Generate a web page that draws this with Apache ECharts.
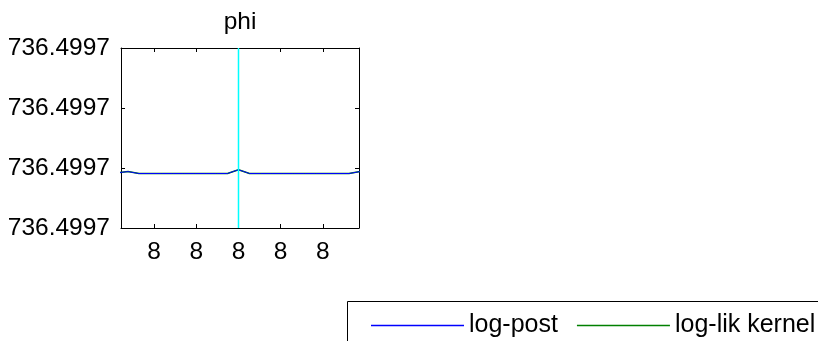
<!DOCTYPE html>
<html>
<head>
<meta charset="utf-8">
<script src="https://cdn.jsdelivr.net/npm/echarts@6/dist/echarts.min.js"></script>
<style>
  html, body { margin: 0; padding: 0; background: #fff; }
  #chart { width: 818px; height: 341px; }
</style>
</head>
<body>
<div id="chart"></div>
<script>
// Sample positions along phi (in tick steps relative to the centre tick)
const phiPositions = [-2.88, -2.62, -2.36, -2.10, -1.83, -1.57, -1.31, -1.05, -0.79, -0.52, -0.26, 0,
                      0.26, 0.52, 0.79, 1.05, 1.31, 1.57, 1.83, 2.10, 2.36, 2.62, 2.88];
// Log-posterior and log-likelihood kernel (offsets above 736.4997, in tick steps)
const logPost = [0.92, 0.94, 0.908, 0.908, 0.908, 0.908, 0.908, 0.908, 0.908, 0.908, 0.908, 0.972,
                 0.908, 0.908, 0.908, 0.908, 0.908, 0.908, 0.908, 0.908, 0.908, 0.908, 0.94];
const logLik = [0.92, 0.94, 0.908, 0.908, 0.908, 0.908, 0.908, 0.908, 0.908, 0.908, 0.908, 0.972,
                0.908, 0.908, 0.908, 0.908, 0.908, 0.908, 0.908, 0.908, 0.908, 0.908, 0.94];
// Current value of phi (vertical marker)
const phiCurrent = 0;
const xTickValues = [-2, -1, 0, 1, 2];
const xTickLabel = '8';
const yTickLabel = '736.4997';
const seriesNames = ['log-post', 'log-lik kernel'];
const seriesColors = ['#0000ff', '#008000'];
const titleText = 'phi';

const FONT = 'Liberation Sans, Arial, Helvetica, sans-serif';
const xMin = -2.786, xMax = 2.857;
const yMin = 0, yMax = 3;

const pair = (xs, ys) => xs.map((x, i) => [x, ys[i]]);

const axisLineStyle = { show: true, onZero: false, lineStyle: { color: '#000', width: 1 } };
const tickStyle = { show: true, inside: true, length: 4, lineStyle: { color: '#000', width: 1 } };

const chart = echarts.init(document.getElementById('chart'), null, { renderer: 'canvas' });
chart.setOption({
  animation: false,
  backgroundColor: '#fff',
  grid: { left: 121, right: 459, top: 48, bottom: 113, show: false },
  xAxis: [
    {
      type: 'value', position: 'bottom', min: xMin, max: xMax,
      axisLine: axisLineStyle,
      axisTick: Object.assign({ customValues: xTickValues }, tickStyle),
      axisLabel: { customValues: xTickValues, formatter: () => xTickLabel, color: '#000', fontFamily: FONT, fontSize: 24.5, margin: 12 },
      splitLine: { show: false }
    },
    {
      type: 'value', position: 'top', min: xMin, max: xMax,
      axisLine: axisLineStyle,
      axisTick: Object.assign({ customValues: xTickValues }, tickStyle),
      axisLabel: { show: false },
      splitLine: { show: false }
    }
  ],
  yAxis: [
    {
      type: 'value', position: 'left', min: yMin, max: yMax, interval: 1,
      axisLine: axisLineStyle,
      axisTick: tickStyle,
      axisLabel: { formatter: () => yTickLabel, color: '#000', fontFamily: FONT, fontSize: 24.5, margin: 11 },
      splitLine: { show: false }
    },
    {
      type: 'value', position: 'right', min: yMin, max: yMax, interval: 1,
      axisLine: axisLineStyle,
      axisTick: tickStyle,
      axisLabel: { show: false },
      splitLine: { show: false }
    }
  ],
  legend: {
    data: seriesNames.map((name, i) => ({
      name,
      icon: 'rect',
      itemStyle: { color: seriesColors[i], borderColor: seriesColors[i], borderWidth: 0, opacity: 1 },
      lineStyle: { color: seriesColors[i], width: 1 }
    })),
    left: 366, top: 308, width: 700, orient: 'horizontal',
    itemWidth: 93, itemHeight: 1.5, itemGap: 19,
    textStyle: { color: '#000', fontFamily: FONT, fontSize: 25 },
    selectedMode: false
  },
  graphic: [
    { type: 'rect', left: 347, top: 301, z: -10, shape: { width: 600, height: 100 },
      style: { fill: '#fff', stroke: '#000', lineWidth: 1 } },
    { type: 'text', x: 240, y: 10, style: { text: titleText, fill: '#000', font: '24.5px ' + FONT, textAlign: 'center', textVerticalAlign: 'top' } }
  ],
  series: [
    {
      name: seriesNames[1], type: 'line', data: pair(phiPositions, logLik),
      symbol: 'none', lineStyle: { color: seriesColors[1], width: 1.5 }, itemStyle: { color: seriesColors[1] },
      clip: true
    },
    {
      name: seriesNames[0], type: 'line', data: pair(phiPositions, logPost),
      symbol: 'none', lineStyle: { color: seriesColors[0], width: 1 }, itemStyle: { color: seriesColors[0] },
      clip: true
    },
    {
      name: 'current', type: 'line', data: [[phiCurrent, yMin], [phiCurrent, yMax]],
      symbol: 'none', lineStyle: { color: '#00ffff', width: 1.5 }, silent: true, z: 20
    }
  ]
});
</script>
</body>
</html>
